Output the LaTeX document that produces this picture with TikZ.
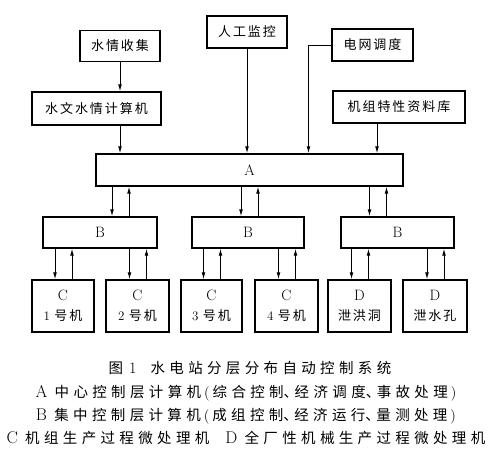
\documentclass[tikz,border=0pt]{standalone}
\usepackage{fontspec}
\newfontfamily\cjk[LetterSpace=15]{Noto Sans CJK SC}
\newfontfamily\cjkcap[LetterSpace=30]{Noto Sans CJK SC}
\newcommand{\zh}[1]{{\cjk #1}}
\newcommand{\zhcap}[1]{{\cjkcap #1}}
\newcommand{\dun}{\makebox[11pt][l]{\cjkcap 、}}
\usetikzlibrary{arrows.meta}

\begin{document}
\begin{tikzpicture}[
    x=1pt, y=-1pt,
    box/.style={
        draw, line width=1.3pt, inner sep=0pt, align=center,
        font=\fontsize{13}{15}\selectfont
    },
    letter/.style={font=\fontsize{15}{15}\selectfont},
    arr/.style={line width=0.9pt, -{Latex[length=7pt,width=3.8pt]}},
    caption/.style={font=\fontsize{14.5}{16}\selectfont, inner sep=0pt}
]

\useasboundingbox (0,0) rectangle (500,458);

% ============================
% ROW 1: inputs
% ============================
\node[box, minimum width=80, minimum height=31] (collect) at (120,46) {\zh{水情收集}};
\node[box, minimum width=80, minimum height=32] (manual) at (247,32) {\zh{人工监控}};
\node[box, minimum width=81, minimum height=32] (grid) at (372.5,45) {\zh{电网调度}};

% ============================
% ROW 2: computers / database
% ============================
\node[box, minimum width=129, minimum height=33] (hydro) at (96.5,108.5) {\zh{水文水情计算机}};
\node[box, minimum width=132, minimum height=32] (unitdb) at (399,107) {\zh{机组特性资料库}};

% ============================
% ROW 3: A
% ============================
\node[box, minimum width=307, minimum height=32, letter] (ctrA) at (249.5,170) {A};

% ============================
% ROW 4: B
% ============================
\node[box, minimum width=114, minimum height=31, letter] (b1) at (100,232.5) {B};
\node[box, minimum width=112, minimum height=31, letter] (b2) at (248,232.5) {B};
\node[box, minimum width=113, minimum height=31, letter] (b3) at (397.5,232.5) {B};

% ============================
% ROW 5: C / D
% ============================
\node[box, minimum width=62, minimum height=52] (c1) at (63,306) {{\fontsize{15}{16}\selectfont C}\\[5pt]1 \zh{号机}};
\node[box, minimum width=63, minimum height=52] (c2) at (137.5,306) {{\fontsize{15}{16}\selectfont C}\\[5pt]2 \zh{号机}};
\node[box, minimum width=61, minimum height=52] (c3) at (211.5,306) {{\fontsize{15}{16}\selectfont C}\\[5pt]3 \zh{号机}};
\node[box, minimum width=63, minimum height=52] (c4) at (286.5,306) {{\fontsize{15}{16}\selectfont C}\\[5pt]4 \zh{号机}};
\node[box, minimum width=63, minimum height=52] (d1) at (359.5,306) {{\fontsize{15}{16}\selectfont D}\\[5pt]\zh{泄洪洞}};
\node[box, minimum width=64, minimum height=52] (d2) at (435,306) {{\fontsize{15}{16}\selectfont D}\\[5pt]\zh{泄水孔}};

% ============================
% ARROWS
% ============================
\draw[arr] (collect.south) -- (collect.south |- hydro.north);
\draw[arr] (hydro.south -| collect.south) -- (collect.south |- ctrA.north);
\draw[arr] (manual.south) -- (manual.south |- ctrA.north);
\draw[arr] (grid.west) -| ([xshift=59pt]ctrA.north);
\draw[arr] ([xshift=-22pt]unitdb.south) -- ([xshift=-22pt]unitdb.south |- ctrA.north);

% A <-> B
\foreach \b/\dn/\up in {b1/12/29, b2/-7/10, b3/-28/-11} {
    \draw[arr] ([xshift=\dn pt]\b.north |- ctrA.south) -- ([xshift=\dn pt]\b.north);
    \draw[arr] ([xshift=\up pt]\b.north) -- ([xshift=\up pt]\b.north |- ctrA.south);
}

% B <-> C/D
\foreach \c/\b in {c1/b1, c2/b1, c3/b2, c4/b2, d1/b3, d2/b3} {
    \draw[arr] ([xshift=-8pt]\c.north |- \b.south) -- ([xshift=-8pt]\c.north);
    \draw[arr] ([xshift=9pt]\c.north) -- ([xshift=9pt]\c.north |- \b.south);
}

% ============================
% CAPTION
% ============================
\node[caption] (cap1) at (250,368) {\zhcap{图}\hspace{6pt}{\fontsize{16}{16}\selectfont 1}\hspace{14pt}\zhcap{水电站分层分布自动控制系统}};
\node[caption] (cap2) at (246,393) {{\fontsize{17}{16}\selectfont A}\enspace\zhcap{中心控制层计算机}\hspace{3pt}(\hspace{3pt}\zhcap{综合控制}\dun\zhcap{经济调度}\dun\zhcap{事故处理}\hspace{3pt})};
\node[caption] (cap3) at (246,416) {{\fontsize{17}{16}\selectfont B}\enspace\zhcap{集中控制层计算机}\hspace{3pt}(\hspace{3pt}\zhcap{成组控制}\dun\zhcap{经济运行}\dun\zhcap{量测处理}\hspace{3pt})};
\node[caption] (cap4) at (246,438) {{\fontsize{17}{16}\selectfont C}\enspace\zhcap{机组生产过程微处理机}\hspace{16pt}{\fontsize{17}{16}\selectfont D}\enspace\zhcap{全厂性机械生产过程微处理机}};

\end{tikzpicture}
\end{document}
